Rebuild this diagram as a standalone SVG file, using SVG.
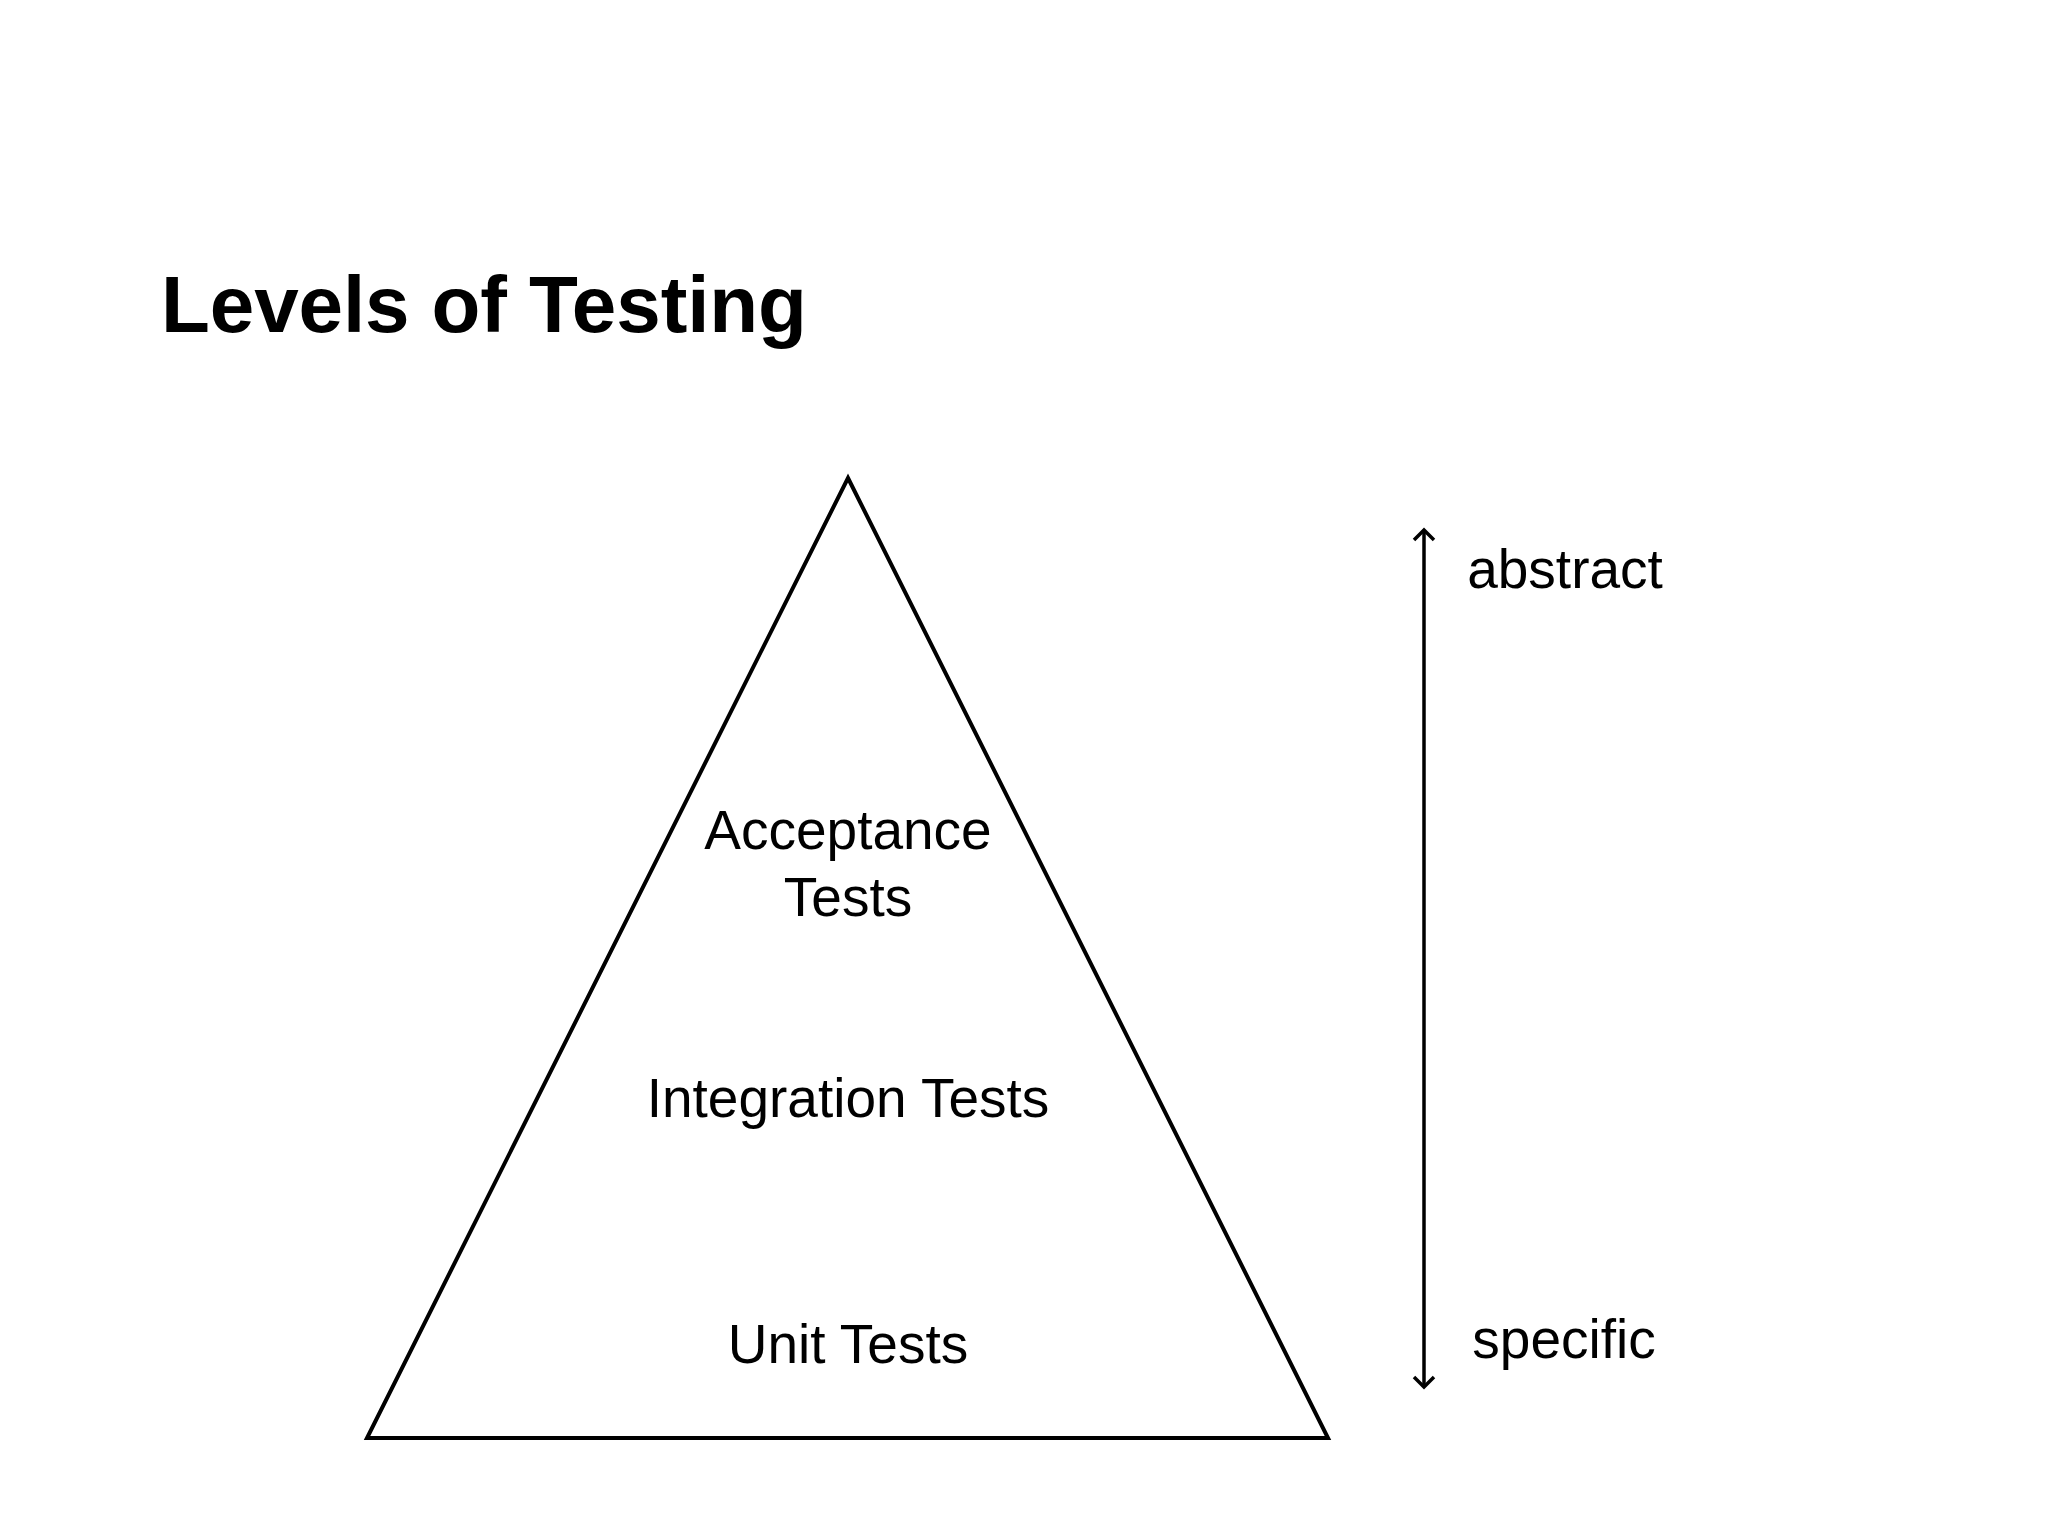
<svg xmlns="http://www.w3.org/2000/svg" width="2048" height="1536" viewBox="0 0 2048 1536">
<defs>
<style>
.title{font-family:"Liberation Sans",Arial,sans-serif;font-weight:bold;font-size:80px;fill:#000;letter-spacing:-0.1px}
.lbl{font-family:"Liberation Sans",Arial,sans-serif;font-size:55px;fill:#000;text-anchor:middle}
.side{font-family:"Liberation Sans",Arial,sans-serif;font-size:55px;fill:#000;text-anchor:middle}
.shape{fill:none;stroke:#000;stroke-width:4;stroke-linejoin:miter}
.conn{fill:none;stroke:#000;stroke-width:3.5}
</style>
<marker id="head" viewBox="0 0 20 24" refX="12" refY="12" markerWidth="20" markerHeight="24" markerUnits="userSpaceOnUse" orient="auto-start-reverse">
<path d="M2,2 L12,12 L2,22" fill="none" stroke="#000" stroke-width="3.5"/>
</marker>
</defs>
<rect width="2048" height="1536" fill="#fff"/>
<text class="title" x="161" y="332">Levels of Testing</text>
<g id="pyramid">
<polygon class="shape" points="848,478 1328,1438 367,1438"/>
</g>
<g id="acceptance">
<text class="lbl" x="848" y="849">Acceptance</text>
<text class="lbl" x="848" y="916">Tests</text>
</g>
<g id="integration">
<text class="lbl" x="848" y="1117">Integration Tests</text>
</g>
<g id="unit">
<text class="lbl" x="848" y="1363">Unit Tests</text>
</g>
<g id="connectors">
<line class="conn" x1="1424" y1="530" x2="1424" y2="1387" marker-start="url(#head)" marker-end="url(#head)"/>
</g>
<g id="abstract">
<text class="side" x="1565" y="588">abstract</text>
</g>
<g id="specific">
<text class="side" x="1564" y="1358">specific</text>
</g>
</svg>
